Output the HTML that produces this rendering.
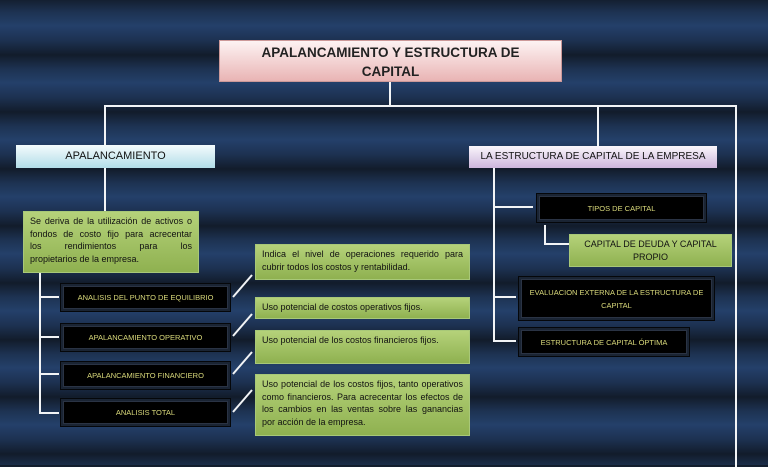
<!DOCTYPE html>
<html><head><meta charset="utf-8"><style>
body{margin:0}
#c{position:relative;width:768px;height:467px;overflow:hidden;font-family:"Liberation Sans",sans-serif;
background:repeating-linear-gradient(180deg,#121c2b 0px,#1d3252 14px,#24406a 28px,#1d3252 42px,#121c2b 57px);background-position:0 -2px}
.b{position:absolute;box-sizing:border-box}
.l{position:absolute;background:#f2f4f6}
.blk{background:#000;border:2px solid #1a2433;outline:1px solid #05070a;color:#d8d87a;font-size:7.5px;display:flex;align-items:center;justify-content:center;text-align:center;box-shadow:inset 0 0 0 1px #2a3344}
.g{background:linear-gradient(#b5d27a,#8fb150);border:1px solid #a8c878;color:#111;font-size:9px;line-height:12.5px;padding:3px 6px;text-align:justify}
</style></head><body><div id="c">
<div class="b" style="left:219px;top:40px;width:343px;height:42px;background:linear-gradient(#fdf3f3,#e9b4b4);border:1px solid #c99;font-weight:bold;font-size:13.5px;text-align:center;line-height:19px;padding-top:2px;color:#222">APALANCAMIENTO Y ESTRUCTURA DE<br>CAPITAL</div>
<div class="l" style="left:389px;top:82px;width:2px;height:24px"></div>
<div class="l" style="left:104px;top:105px;width:633px;height:2px"></div>
<div class="l" style="left:104px;top:105px;width:2px;height:106px"></div>
<div class="l" style="left:597px;top:105px;width:2px;height:41px"></div>
<div class="l" style="left:735px;top:105px;width:2px;height:362px"></div>
<div class="b" style="left:16px;top:145px;width:199px;height:23px;background:linear-gradient(#f4fbfd,#b2dde8);font-size:11px;text-align:center;line-height:23px;color:#111">APALANCAMIENTO</div>
<div class="b g" style="left:23px;top:211px;width:176px;height:62px">Se deriva de la utilización de activos o fondos de costo fijo para acrecentar los&nbsp;&nbsp;&nbsp;&nbsp; rendimientos&nbsp;&nbsp;&nbsp;&nbsp; para&nbsp;&nbsp;&nbsp;&nbsp; los propietarios de la empresa.</div>
<div class="l" style="left:39px;top:273px;width:2px;height:141px"></div>
<div class="l" style="left:39px;top:296px;width:20px;height:2px"></div>
<div class="l" style="left:39px;top:336px;width:20px;height:2px"></div>
<div class="l" style="left:39px;top:373px;width:20px;height:2px"></div>
<div class="l" style="left:39px;top:412px;width:20px;height:2px"></div>
<div class="b blk" style="left:61px;top:284px;width:169px;height:27px">ANALISIS DEL PUNTO DE EQUILIBRIO</div>
<div class="b blk" style="left:61px;top:324px;width:169px;height:27px">APALANCAMIENTO OPERATIVO</div>
<div class="b blk" style="left:61px;top:362px;width:169px;height:27px">APALANCAMIENTO FINANCIERO</div>
<div class="b blk" style="left:61px;top:399px;width:169px;height:27px">ANALISIS TOTAL</div>
<svg class="b" style="left:0;top:0" width="768" height="467"><g stroke="#f2f4f6" stroke-width="2">
<line x1="233" y1="297" x2="252" y2="275"/><line x1="233" y1="336" x2="252" y2="314"/><line x1="233" y1="374" x2="252" y2="352"/><line x1="233" y1="412" x2="252" y2="390"/></g></svg>
<div class="b g" style="left:255px;top:244px;width:215px;height:36px">Indica el nivel de operaciones requerido para cubrir todos los costos y rentabilidad.</div>
<div class="b g" style="left:255px;top:297px;width:215px;height:22px">Uso potencial de costos operativos fijos.</div>
<div class="b g" style="left:255px;top:330px;width:215px;height:34px">Uso potencial de los costos financieros fijos.</div>
<div class="b g" style="left:255px;top:374px;width:215px;height:62px">Uso potencial de los costos fijos, tanto operativos como financieros. Para acrecentar los efectos de los cambios en las ventas sobre las ganancias por acción de la empresa.</div>
<div class="b" style="left:469px;top:146px;width:248px;height:22px;background:linear-gradient(#faf6fc,#cdb6dc);font-size:10px;text-align:center;line-height:22px;color:#111">LA ESTRUCTURA DE CAPITAL DE LA EMPRESA</div>
<div class="l" style="left:493px;top:168px;width:2px;height:173px"></div>
<div class="l" style="left:493px;top:206px;width:40px;height:2px"></div>
<div class="l" style="left:493px;top:296px;width:23px;height:2px"></div>
<div class="l" style="left:493px;top:340px;width:23px;height:2px"></div>
<div class="b blk" style="left:537px;top:194px;width:169px;height:28px">TIPOS DE CAPITAL</div>
<div class="l" style="left:544px;top:225px;width:2px;height:20px"></div>
<div class="l" style="left:544px;top:243px;width:25px;height:2px"></div>
<div class="b g" style="left:569px;top:234px;width:163px;height:33px;font-size:9px;text-align:center;line-height:12.5px;padding-top:3px">CAPITAL DE DEUDA Y CAPITAL PROPIO</div>
<div class="b blk" style="left:519px;top:277px;width:195px;height:43px;line-height:13px;padding:0 8px">EVALUACION EXTERNA DE LA ESTRUCTURA DE CAPITAL</div>
<div class="b blk" style="left:519px;top:328px;width:170px;height:28px">ESTRUCTURA DE CAPITAL ÓPTIMA</div>
</div></body></html>
